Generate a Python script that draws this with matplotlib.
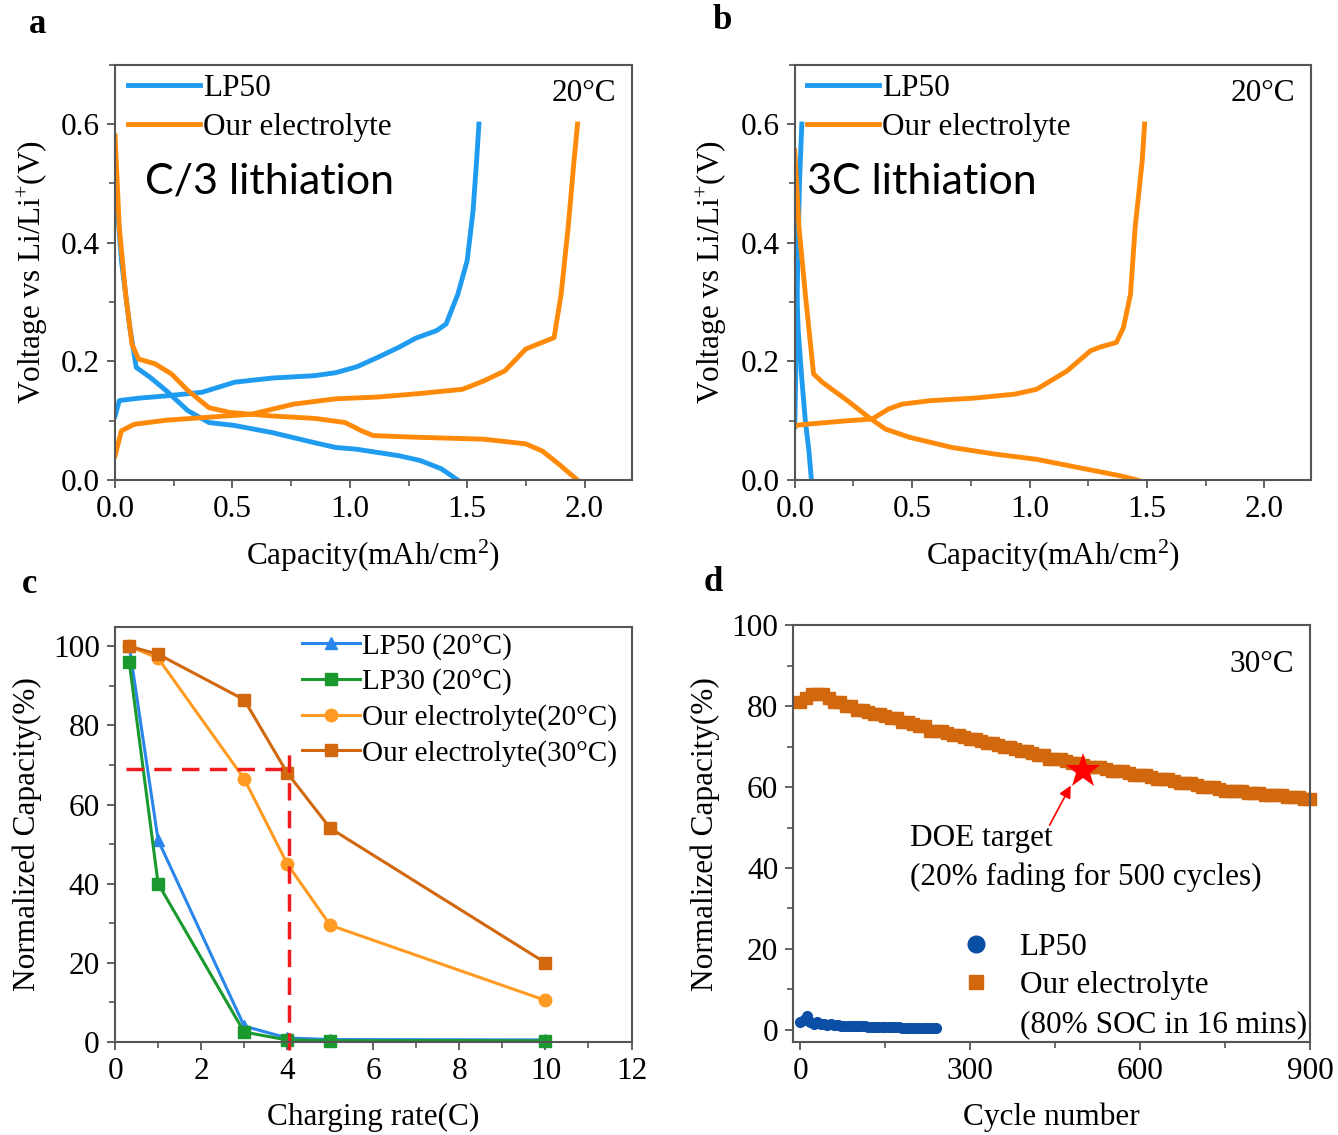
import matplotlib.pyplot as plt
from matplotlib.lines import Line2D
from matplotlib.ticker import MultipleLocator

plt.rcParams["font.family"] = ["Liberation Serif", "DejaVu Serif"]
plt.rcParams["mathtext.fontset"] = "custom"
plt.rcParams["mathtext.rm"] = "Liberation Serif"
plt.rcParams["mathtext.it"] = "Liberation Serif:italic"
plt.rcParams["font.size"] = 22.5

BLUE = "#1f9cf0"
ORANGE = "#ff8a0a"
DARK_ORANGE = "#d2680e"
GREEN = "#1a9a2e"
NAVY = "#0a4ea6"
SPINE = "#555555"

# --- (a) C/3 voltage profiles ---
a_lp50_lith_cap = [0.0, 0.027, 0.063, 0.09, 0.15, 0.22, 0.31, 0.40, 0.51, 0.67, 0.85, 0.94,
                   1.03, 1.21, 1.30, 1.39, 1.46]
a_lp50_lith_v = [0.51, 0.37, 0.257, 0.19, 0.173, 0.15, 0.117, 0.097, 0.092, 0.080, 0.063, 0.055,
                 0.052, 0.041, 0.033, 0.019, 0.0]
a_lp50_delith_cap = [0.0, 0.018, 0.10, 0.22, 0.37, 0.51, 0.67, 0.85, 0.94, 1.03, 1.12, 1.21,
                     1.28, 1.37, 1.41, 1.46, 1.50, 1.525, 1.54, 1.55]
a_lp50_delith_v = [0.108, 0.134, 0.138, 0.142, 0.148, 0.165, 0.172, 0.176, 0.181, 0.191, 0.207,
                   0.224, 0.239, 0.252, 0.263, 0.313, 0.37, 0.454, 0.538, 0.60]
a_our_lith_cap = [0.0, 0.018, 0.045, 0.072, 0.10, 0.17, 0.24, 0.31, 0.40, 0.49, 0.67, 0.85,
                  0.98, 1.05, 1.10, 1.30, 1.57, 1.75, 1.82, 1.89, 1.97]
a_our_lith_v = [0.58, 0.426, 0.313, 0.229, 0.204, 0.196, 0.179, 0.151, 0.122, 0.114, 0.108,
                0.104, 0.097, 0.083, 0.075, 0.072, 0.069, 0.061, 0.049, 0.027, 0.0]
a_our_delith_cap = [0.0, 0.027, 0.081, 0.22, 0.40, 0.58, 0.76, 0.94, 1.12, 1.30, 1.48, 1.57,
                    1.66, 1.75, 1.80, 1.87, 1.90, 1.93, 1.955, 1.97]
a_our_delith_v = [0.041, 0.083, 0.094, 0.101, 0.106, 0.111, 0.128, 0.137, 0.140, 0.146, 0.153,
                  0.167, 0.184, 0.221, 0.229, 0.240, 0.313, 0.426, 0.538, 0.60]

# --- (b) 3C voltage profiles ---
b_lp50_lith_cap = [0.0, 0.005, 0.015, 0.03, 0.045, 0.06, 0.071]
b_lp50_lith_v = [0.45, 0.35, 0.25, 0.17, 0.10, 0.05, 0.0]
b_lp50_delith_cap = [0.0, 0.005, 0.012, 0.02, 0.03]
b_lp50_delith_v = [0.09, 0.20, 0.35, 0.50, 0.60]
b_our_lith_cap = [0.0, 0.018, 0.045, 0.08, 0.117, 0.224, 0.314, 0.386, 0.49, 0.67, 0.85, 1.03,
                  1.21, 1.39, 1.46]
b_our_lith_v = [0.555, 0.426, 0.313, 0.179, 0.165, 0.134, 0.106, 0.086, 0.072, 0.055, 0.044,
                0.035, 0.021, 0.007, 0.0]
b_our_delith_cap = [0.0, 0.045, 0.224, 0.33, 0.40, 0.457, 0.58, 0.76, 0.94, 1.03, 1.16, 1.26,
                    1.30, 1.37, 1.40, 1.43, 1.45, 1.48, 1.49]
b_our_delith_v = [0.092, 0.094, 0.100, 0.103, 0.120, 0.128, 0.134, 0.138, 0.145, 0.153, 0.184,
                  0.218, 0.224, 0.232, 0.257, 0.313, 0.426, 0.538, 0.60]

# --- (c) rate capability ---
rates = [0.33, 1, 3, 4, 5, 10]
cap_lp50_20 = [100, 51, 4, 1, 0.6, 0.5]
cap_lp30_20 = [96, 40, 2.5, 0.5, 0.3, 0.3]
cap_our_20 = [100, 97, 66.5, 45, 29.5, 10.5]
cap_our_30 = [100, 98, 86.5, 68, 54, 20]
target_rate = 4.05
target_cap = 69

# --- (d) cycling at 30 C ---
cycles_our = list(range(0, 901, 10))
cycle_cap_our = [81, 82, 83, 83, 83, 82, 81, 81, 80, 80, 79, 79, 78.5, 78, 78, 77.5, 77, 77, 76, 76,
                 75.5, 75, 75, 74, 74, 74, 73.5, 73, 73, 72.5, 72, 72, 71.5, 71, 71, 70.5, 70, 70,
                 69.5, 69, 69, 68.5, 68, 68, 67, 67, 67, 66.5, 66, 66, 65.5, 65, 65, 65, 64.5, 64,
                 64, 64, 63.5, 63, 63, 63, 62.5, 62, 62, 62, 61.5, 61, 61, 61, 60.5, 60, 60, 60,
                 59.5, 59, 59, 59, 59, 58.5, 58.5, 58.5, 58, 58, 58, 58, 57.5, 57.5, 57.5, 57, 57]
cycles_lp50 = list(range(0, 241, 6))
cycle_cap_lp50 = [2, 2.5, 3.5, 2, 1.5, 2, 1.5, 1.5, 1.2, 1.5, 1.3, 1.1, 1.0, 1.0, 1.0, 1.0, 1.0,
                  0.9, 0.9, 0.9, 0.8, 0.8, 0.8, 0.7, 0.7, 0.7, 0.6, 0.6, 0.6, 0.6, 0.5, 0.5, 0.5,
                  0.5, 0.5, 0.5, 0.5, 0.5, 0.5, 0.5, 0.5]
doe_cycle = 500
doe_cap = 64

fig = plt.figure(figsize=(13.38, 11.35), dpi=100)
ax_a = fig.add_axes([0.086, 0.577, 0.386, 0.366])
ax_b = fig.add_axes([0.594, 0.577, 0.386, 0.366])
ax_c = fig.add_axes([0.086, 0.082, 0.386, 0.366])
ax_d = fig.add_axes([0.593, 0.082, 0.386, 0.367])


def style(ax):
    for s in ax.spines.values():
        s.set_color(SPINE)
        s.set_linewidth(1.5)
    ax.tick_params(which="both", direction="out", color=SPINE, top=False, right=False)
    ax.tick_params(which="major", length=6, width=1.3, pad=5)
    ax.tick_params(which="minor", length=4, width=1.2)


for ax, lith, delith in [
    (ax_a, [(a_lp50_lith_cap, a_lp50_lith_v), (a_our_lith_cap, a_our_lith_v)],
     [(a_lp50_delith_cap, a_lp50_delith_v), (a_our_delith_cap, a_our_delith_v)]),
    (ax_b, [(b_lp50_lith_cap, b_lp50_lith_v), (b_our_lith_cap, b_our_lith_v)],
     [(b_lp50_delith_cap, b_lp50_delith_v), (b_our_delith_cap, b_our_delith_v)]),
]:
    ax.plot(*lith[0], color=BLUE, lw=3.5, label="LP50")
    ax.plot(*delith[0], color=BLUE, lw=3.5)
    ax.plot(*lith[1], color=ORANGE, lw=3.5, label="Our electrolyte")
    ax.plot(*delith[1], color=ORANGE, lw=3.5)
    ax.set_xlim(0, 2.2)
    ax.set_ylim(0, 0.7)
    ax.xaxis.set_major_locator(MultipleLocator(0.5))
    ax.xaxis.set_minor_locator(MultipleLocator(0.25))
    ax.yaxis.set_major_locator(MultipleLocator(0.2))
    ax.yaxis.set_minor_locator(MultipleLocator(0.1))
    ax.set_xlabel("Capacity(mAh/cm$^{2}$)", labelpad=10)
    ax.set_ylabel("Voltage vs Li/Li$^{+}$(V)", labelpad=8)
    style(ax)
    ax.legend(loc="upper left", bbox_to_anchor=(-0.018, 1.03), frameon=False, handlelength=2.3,
              handletextpad=0.1, labelspacing=0.32, borderaxespad=0.3)
    ax.text(0.97, 0.93, "20°C", transform=ax.transAxes, ha="right", va="center")

ax_a.text(0.128, 0.503, "C/3 lithiation", family="Lato", fontsize=31, va="center", ha="left")
ax_b.text(0.05, 0.503, "3C lithiation", family="Lato", fontsize=31, va="center", ha="left")

# rate capability
mk = dict(markersize=9, lw=2.2, clip_on=False)
ax_c.plot(rates, cap_lp50_20, "-^", color="#2a86ea", label="LP50 (20°C)", **mk)
ax_c.plot(rates, cap_lp30_20, "-s", color=GREEN, label="LP30 (20°C)", **mk)
ax_c.plot(rates, cap_our_20, "-o", color="#ff9a22", label="Our electrolyte(20°C)", **mk)
ax_c.plot(rates, cap_our_30, "-s", color=DARK_ORANGE, label="Our electrolyte(30°C)", **mk)
ax_c.plot([0.25, target_rate], [target_cap, target_cap], "--", color="#ee1c1c", lw=2.5,
          dashes=(5, 3), clip_on=False)
ax_c.plot([target_rate, target_rate], [-2, 73], "--", color="#ee1c1c", lw=2.5,
          dashes=(5, 3), clip_on=False)
ax_c.set_xlim(0, 12)
ax_c.set_ylim(0, 105)
ax_c.xaxis.set_major_locator(MultipleLocator(2))
ax_c.xaxis.set_minor_locator(MultipleLocator(1))
ax_c.yaxis.set_major_locator(MultipleLocator(20))
ax_c.yaxis.set_minor_locator(MultipleLocator(10))
ax_c.set_xlabel("Charging rate(C)", labelpad=12)
ax_c.set_ylabel("Normalized Capacity(%)", labelpad=8)
style(ax_c)
ax_c.legend(loc="upper right", bbox_to_anchor=(1.0, 1.02), frameon=False, handlelength=2.0,
            handletextpad=0.05, labelspacing=0.3, borderaxespad=0.1, fontsize=21)

# cycling
ax_d.plot(cycles_our, cycle_cap_our, "s", color=DARK_ORANGE, markersize=9, ls="none",
          label="Our electrolyte", clip_on=False)
ax_d.plot(cycles_lp50, cycle_cap_lp50, "o", color=NAVY, markersize=7, ls="none", label="LP50")
ax_d.plot([doe_cycle], [doe_cap], "*", color="red", markersize=26, markeredgewidth=0)
ax_d.annotate("", xy=(doe_cycle - 20, doe_cap - 3), xytext=(438, 50),
              arrowprops=dict(arrowstyle="-|>", color="red", lw=1.2, mutation_scale=18))
ax_d.text(194, 47.4, "DOE target", va="center", ha="left")
ax_d.text(194, 37.8, "(20% fading for 500 cycles)", va="center", ha="left")
ax_d.text(0.97, 0.905, "30°C", transform=ax_d.transAxes, ha="right", va="center")
ax_d.set_xlim(-12, 900)
ax_d.set_ylim(-3, 100)
ax_d.xaxis.set_major_locator(MultipleLocator(300))
ax_d.xaxis.set_minor_locator(MultipleLocator(150))
ax_d.yaxis.set_major_locator(MultipleLocator(20))
ax_d.yaxis.set_minor_locator(MultipleLocator(10))
ax_d.set_xlabel("Cycle number", labelpad=12)
ax_d.set_ylabel("Normalized Capacity(%)", labelpad=8)
style(ax_d)
handles = [Line2D([], [], marker="o", color=NAVY, ls="none", markersize=12),
           Line2D([], [], marker="s", color=DARK_ORANGE, ls="none", markersize=10),
           Line2D([], [], ls="none")]
ax_d.legend(handles, ["LP50", "Our electrolyte", "(80% SOC in 16 mins)"], loc="lower right",
            bbox_to_anchor=(1.024, -0.03), frameon=False, handlelength=1.0, handletextpad=0.9,
            labelspacing=0.3, borderaxespad=0.1)

for x, y, letter in [(0.028, 0.978, "a"), (0.54, 0.982, "b"), (0.022, 0.485, "c"),
                     (0.533, 0.487, "d")]:
    fig.text(x, y, letter, fontsize=25, fontweight="bold", ha="center", va="center")

fig.savefig("out.png", dpi=100)
